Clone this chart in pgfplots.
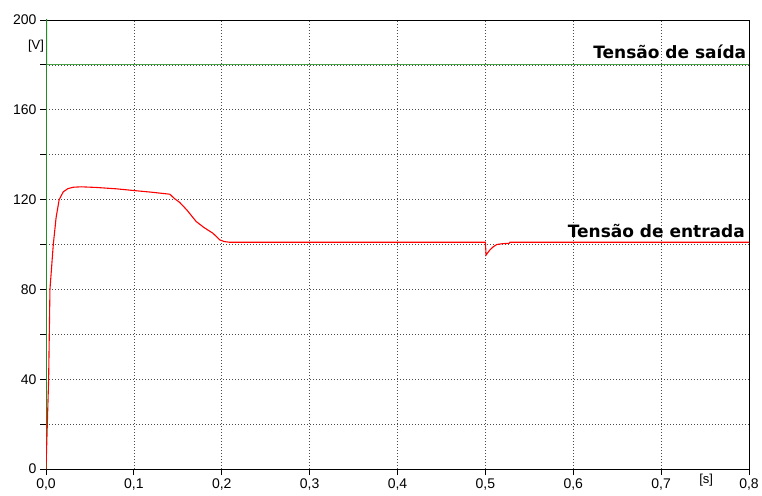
\documentclass[border=0pt]{standalone}
\usepackage{pgfplots}
\pgfplotsset{compat=1.18}
\usepackage{fontspec}
\setmainfont{Liberation Sans}
\newfontfamily\djb{DejaVu Sans}
\definecolor{vgreen}{RGB}{34,139,34}
\definecolor{lgreen}{RGB}{70,160,70}
\pgfplotsset{base/.style={
  at={(0pt,0pt)}, anchor=south west,
  scale only axis, width=703pt, height=449pt,
  xmin=0, xmax=0.8, ymin=0, ymax=200,
  xtick={0,0.1,...,0.8},
  ytick={0,20,...,200}}}
\begin{document}
\begin{tikzpicture}
\useasboundingbox (-46pt,-26pt) rectangle (716pt,469pt);
\begin{axis}[base, axis line style={draw=none}, major tick style={draw=none},
  xticklabels={}, yticklabels={},
  xmajorgrids, ymajorgrids,
  major grid style={draw=black!70, dash pattern=on 1pt off 2pt, line width=0.6pt}]
\end{axis}
\begin{axis}[base,
  yticklabels={0,,40,,80,,120,,160,,200},
  xtick pos=left, ytick pos=left, tick align=outside,
  major tick length=6pt,
  major tick style={draw=black, line width=0.9pt},
  axis line style={black, line width=0.9pt},
  /pgf/number format/assume math mode=true,
  xticklabel style={/pgf/number format/.cd, use comma, fixed, fixed zerofill, precision=1},
  yticklabel style={/pgf/number format/.cd, fixed},
  tick label style={font=\fontsize{14}{16}\selectfont},
  clip mode=individual,
]
\addplot[lgreen, line width=1pt] coordinates {(0.0005,180) (0.8,180)};
\addplot[vgreen, line width=1.5pt] coordinates {(0,0) (0.0002,230) (0.0005,180)};
\addplot[red, line width=1.1pt] coordinates {
(0,0) (0.003,40) (0.0045,80) (0.0083,100) (0.0115,112) (0.015,120) (0.0197,123.5)
(0.025,124.9) (0.031,125.5) (0.04,125.7) (0.0577,125.4) (0.08,124.8)
(0.101,124) (0.12,123.3) (0.141,122.4) (0.146,120.5) (0.152,118.8) (0.16,115.5)
(0.171,110.2) (0.18,107.5) (0.19,105) (0.198,102) (0.203,101.3) (0.209,101)
(0.3,101) (0.5,101) (0.5008,95.3) (0.503,96.5) (0.505,97.5) (0.509,99) (0.513,100)
(0.52,100.4) (0.527,100.5) (0.528,101) (0.8,101)};
\node[anchor=east, inner sep=0pt, font=\djb\bfseries\fontsize{17}{19}\selectfont] at (axis cs:0.797,186) {Tensão de saída};
\node[anchor=east, inner sep=0pt, font=\djb\bfseries\fontsize{17}{19}\selectfont] at (axis cs:0.7955,106) {Tensão de entrada};
\node[font=\fontsize{13}{15}\selectfont, inner sep=0pt] at (rel axis cs:-0.0142,0.942) {[V]};
\node[font=\fontsize{13}{15}\selectfont, inner sep=0pt] at (rel axis cs:0.939,-0.0245) {[s]};
\end{axis}
\end{tikzpicture}
\end{document}
